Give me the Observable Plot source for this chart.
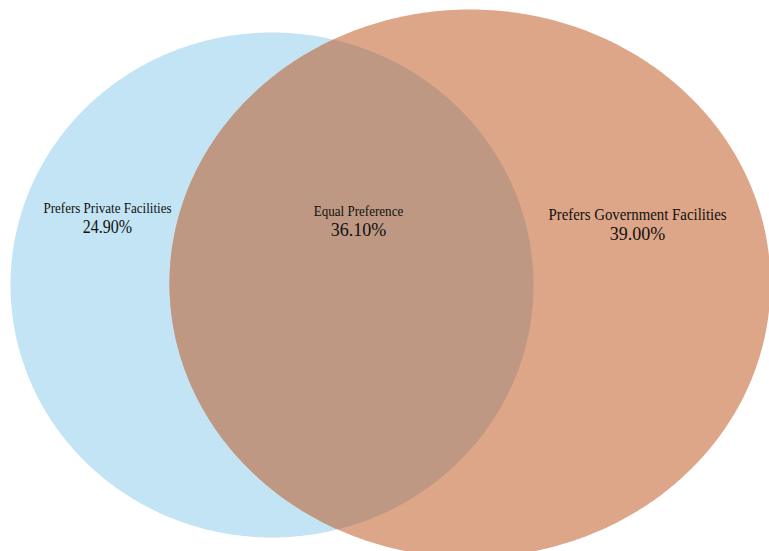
<!DOCTYPE html>
<html>
<head>
<meta charset="utf-8">
<script src="https://cdn.jsdelivr.net/npm/d3@7"></script>
<script src="https://cdn.jsdelivr.net/npm/@observablehq/plot@0.6"></script>
<style>
  html, body { margin: 0; padding: 0; background: #fff; overflow: hidden; }
</style>
</head>
<body>
<div id="chart"></div>
<script>
// ---- data ----
const categories = ["Prefers Private Facilities", "Equal Preference", "Prefers Government Facilities"];
const values = [24.9, 36.1, 39.0];

// ---- layout (pixel geometry of the two sets and label anchors) ----
const W = 769, H = 551;
const setShapes = [
  {name: "Private", cx: 271.5, cy: 284.5, rx: 261.5, ry: 252.5, fill: "#c2e4f4"},
  {name: "Government", cx: 469.5, cy: 283, rx: 300.5, ry: 274, fill: "#dea688"}
];
const overlapFill = "#be9883";
// baseline y, font size, horizontal squeeze
const labelPos = [
  {x: 107, yName: 212, yVal: 232, nameSize: 15, nameSx: 0.87, valSize: 18, valSx: 0.89},
  {x: 358, yName: 215, yVal: 235, nameSize: 15, nameSx: 0.87, valSize: 19, valSx: 0.95},
  {x: 637, yName: 219, yVal: 239, nameSize: 16.5, nameSx: 0.9, valSize: 19, valSx: 0.95}
];

function ellipsePts(s, n = 720) {
  return d3.range(n).map(i => {
    const t = (i / n) * 2 * Math.PI;
    return {x: s.cx + s.rx * Math.cos(t), y: s.cy + s.ry * Math.sin(t)};
  });
}
function inside(p, s) {
  const dx = (p.x - s.cx) / s.rx, dy = (p.y - s.cy) / s.ry;
  return dx * dx + dy * dy <= 1;
}
const A = ellipsePts(setShapes[0]), B = ellipsePts(setShapes[1]);
let inter = A.filter(p => inside(p, setShapes[1])).concat(B.filter(p => inside(p, setShapes[0])));
const mx = d3.mean(inter, d => d.x), my = d3.mean(inter, d => d.y);
inter.sort((a, b) => Math.atan2(a.y - my, a.x - mx) - Math.atan2(b.y - my, b.x - mx));

const labels = [];
categories.forEach((c, i) => {
  const p = labelPos[i];
  labels.push({label: c, x: p.x, y: p.yName, size: p.nameSize, sx: p.nameSx});
  labels.push({label: values[i].toFixed(2) + "%", x: p.x, y: p.yVal, size: p.valSize, sx: p.valSx});
});

const font = "'Liberation Serif', 'Times New Roman', serif";

const xs = d3.scaleLinear().domain([0, W]).range([0, W]);
const ys = d3.scaleLinear().domain([0, H]).range([0, H]);

const chart = Plot.plot({
  width: W,
  height: H,
  margin: 0,
  x: {domain: [0, W], range: [0, W], axis: null},
  y: {domain: [0, H], range: [0, H], axis: null},
  style: {background: "#fff"},
  marks: [
    Plot.line(A, {x: "x", y: "y", fill: setShapes[0].fill, stroke: "none", curve: "linear-closed"}),
    Plot.line(B, {x: "x", y: "y", fill: setShapes[1].fill, stroke: "none", curve: "linear-closed"}),
    Plot.line(inter, {x: "x", y: "y", fill: overlapFill, stroke: "none", curve: "linear-closed"}),
    Plot.text(labels, {x: "x", y: "y", text: "label", fontSize: "size", fontFamily: font, fill: "#111", textAnchor: "middle", lineAnchor: "bottom"})
  ]
});
// apply horizontal squeeze around each label's anchor, keeping the baseline
const sx = chart.scale("x"), sy = chart.scale("y");
d3.select(chart).selectAll("g[aria-label=text] text").each(function(_, i) {
  const d = labels[i];
  const px = sx.apply(d.x), py = sy.apply(d.y);
  d3.select(this).attr("x", null).attr("y", null).attr("dy", null)
    .attr("transform", `translate(${px},${py}) scale(${d.sx},1)`);
});
document.getElementById("chart").appendChild(chart);
</script>
</body>
</html>
